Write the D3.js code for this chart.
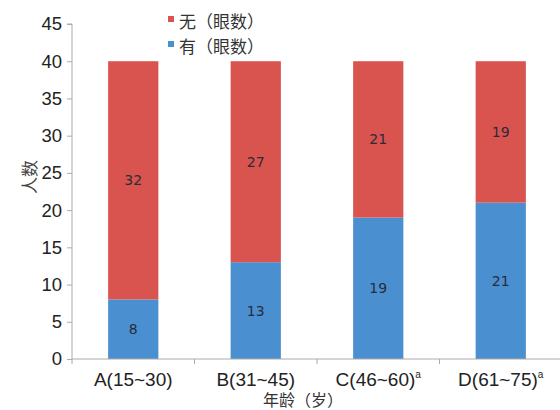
<!DOCTYPE html>
<html>
<head>
<meta charset="utf-8">
<script src="https://cdn.jsdelivr.net/npm/d3@7"></script>
<style>
  html, body { margin: 0; padding: 0; background: #fff; }
  svg { display: block; }
</style>
</head>
<body>
<svg id="chart" width="560" height="410"></svg>
<script>
// Age groups and eye counts (stacked: 有 at the bottom, 无 on top)
const categories = ["A(15~30)", "B(31~45)", "C(46~60)", "D(61~75)"];
const superscripts = ["", "", "a", "a"];
const withCounts = [8, 13, 19, 21];     // 有（眼数）
const withoutCounts = [32, 27, 21, 19]; // 无（眼数）
const yTicks = [0, 5, 10, 15, 20, 25, 30, 35, 40, 45];
const seriesNames = ["无（眼数）", "有（眼数）"];
const seriesColors = { "无": "#d9534f", "有": "#4a8fcf" };

const svg = d3.select("#chart");
const margin = { left: 72, right: -2, top: 24, bottom: 51 };
const W = 560, H = 410;
const plotW = W - margin.left - margin.right;
const plotH = H - margin.top - margin.bottom;

const g = svg.append("g").attr("transform", `translate(${margin.left},${margin.top})`);

const x = d3.scaleBand().domain(categories).range([0, plotW]).paddingInner(0.59).paddingOuter(0.295);
const y = d3.scaleLinear().domain([0, 45]).range([plotH, 0]);

const rows = categories.map((c, i) => ({ cat: c, "有": withCounts[i], "无": withoutCounts[i] }));
const stack = d3.stack().keys(["有", "无"])(rows);

// Stacked bars
stack.forEach(layer => {
  g.append("g").selectAll("rect").data(layer).join("rect")
    .attr("x", d => x(d.data.cat))
    .attr("width", x.bandwidth())
    .attr("y", d => y(d[1]))
    .attr("height", d => y(d[0]) - y(d[1]))
    .attr("fill", seriesColors[layer.key]);
});

// Segment value labels, centred in each segment
stack.forEach(layer => {
  g.append("g").selectAll("text").data(layer).join("text")
    .attr("x", d => x(d.data.cat) + x.bandwidth() / 2)
    .attr("y", d => (y(d[0]) + y(d[1])) / 2)
    .attr("text-anchor", "middle")
    .attr("dominant-baseline", "central")
    .attr("font-family", "DejaVu Sans, sans-serif")
    .attr("font-size", 14)
    .attr("fill", "#2b2b3a")
    .text(d => d[1] - d[0]);
});

// Y axis
const yAxis = g.append("g").call(d3.axisLeft(y).tickValues(yTicks).tickSize(5).tickPadding(5));
yAxis.select(".domain").attr("stroke", "#aaa").attr("d", `M-5,${y(45)}H0V${y(0)}`);
yAxis.selectAll(".tick line").attr("stroke", "#aaa");
yAxis.selectAll(".tick text")
  .attr("font-family", "Liberation Sans, Arial, sans-serif")
  .attr("font-size", 18.5)
  .attr("fill", "#222");

// X axis with ticks at band boundaries
const xAxisG = g.append("g").attr("transform", `translate(0,${plotH})`);
xAxisG.append("line").attr("x1", 0).attr("x2", plotW).attr("y1", 0).attr("y2", 0).attr("stroke", "#aaa");
const step = x.step();
const start = x(categories[0]) - step * x.paddingOuter();
const boundaries = d3.range(categories.length + 1).map(i => start + i * step);
xAxisG.selectAll("line.bt").data(boundaries).join("line")
  .attr("class", "bt")
  .attr("x1", d => d).attr("x2", d => d).attr("y1", 0).attr("y2", 5)
  .attr("stroke", "#aaa");

const catLabels = xAxisG.selectAll("text.cat").data(categories).join("text")
  .attr("class", "cat")
  .attr("x", d => x(d) + x.bandwidth() / 2)
  .attr("y", 27)
  .attr("text-anchor", "middle")
  .attr("font-family", "Liberation Sans, Arial, sans-serif")
  .attr("font-size", 19)
  .attr("fill", "#222");
catLabels.append("tspan").text(d => d);
catLabels.append("tspan")
  .attr("font-size", 10)
  .attr("dy", -8)
  .text((d, i) => superscripts[i]);

// Axis titles
svg.append("text")
  .attr("transform", "translate(28,177) rotate(-90)")
  .attr("text-anchor", "middle")
  .attr("dominant-baseline", "central")
  .attr("font-family", "Noto Sans CJK SC, sans-serif")
  .attr("font-size", 17)
  .attr("fill", "#444")
  .text("人数");

svg.append("text")
  .attr("x", 303)
  .attr("y", 406)
  .attr("text-anchor", "middle")
  .attr("font-family", "Noto Sans CJK SC, sans-serif")
  .attr("font-size", 16)
  .attr("fill", "#333")
  .text("年龄（岁）");

// Legend
const legend = svg.append("g").attr("transform", "translate(168,12)");
seriesNames.forEach((name, i) => {
  const key = name.charAt(0);
  const row = legend.append("g").attr("transform", `translate(0,${i * 25})`);
  row.append("rect").attr("x", 0).attr("y", 4).attr("width", 6).attr("height", 6).attr("fill", seriesColors[key]);
  row.append("text")
    .attr("x", 11).attr("y", 8)
    .attr("dominant-baseline", "central")
    .attr("font-family", "Noto Sans CJK SC, sans-serif")
    .attr("font-size", 17)
    .attr("fill", "#333")
    .text(name);
});
</script>
</body>
</html>
